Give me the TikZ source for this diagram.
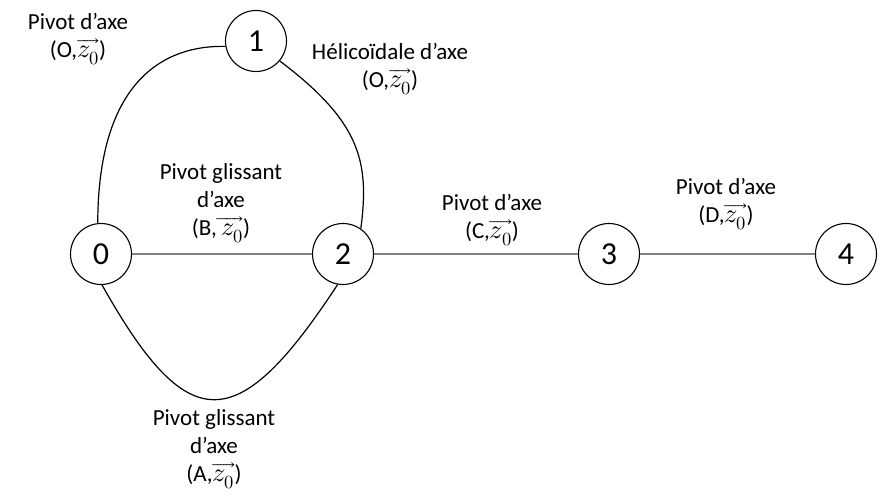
\documentclass[tikz,border=0pt]{standalone}
\usepackage{fontspec}
\setmainfont{Carlito}
\usepackage{unicode-math}
\setmathfont{Latin Modern Math}[Scale=1.15]
\newcommand{\zaxis}{$\overrightarrow{z_0}$}
\begin{document}
\begin{tikzpicture}[x=1pt,y=-1pt,
  part/.style={circle, draw, line width=1.1pt, minimum size=61pt, inner sep=0pt,
               font=\fontsize{32}{36}\selectfont},
  joint/.style={align=center, inner sep=0pt, font=\fontsize{23}{28}\selectfont},
  link/.style={line width=1.1pt, draw=black!50},
  curve/.style={line width=1.2pt, draw=black}]
\useasboundingbox (0,0) rectangle (884,492);

% parts
\node[part] (n0) at (101,254) {0};
\node[part] (n1) at (256,41)  {1};
\node[part] (n2) at (343,254) {2};
\node[part] (n3) at (609,254) {3};
\node[part] (n4) at (846,254) {4};

% straight links
\draw[link] (n0) -- (n2);
\draw[link] (n2) -- (n3);
\draw[link] (n3) -- (n4);

% curved links
\draw[curve] (n0.96) .. controls (98,80) and (165,45) .. (n1.190);
\draw[curve] (n1.-40) .. controls (359,121) and (370,160) .. (n2.55);
\draw[curve] (n0.-88) .. controls (188,438) and (237,438) .. (n2.-100);

% joint labels
\node[joint] (l01) at (78,39)   {Pivot d'axe\\(O,\zaxis)};
\node[joint] (l12) at (390,69)  {Hélicoïdale d'axe\\(O,\zaxis)};
\node[joint] (l02b) at (221,203) {Pivot glissant\\d'axe\\(B,$\overrightarrow{\,z_0}$)};
\node[joint] (l23) at (492,220) {Pivot d'axe\\(C,\zaxis)};
\node[joint] (l34) at (726,204) {Pivot d'axe\\(D,\zaxis)};
\node[joint] (l02a) at (214,449) {Pivot glissant\\d'axe\\(A,\zaxis)};
\end{tikzpicture}
\end{document}
